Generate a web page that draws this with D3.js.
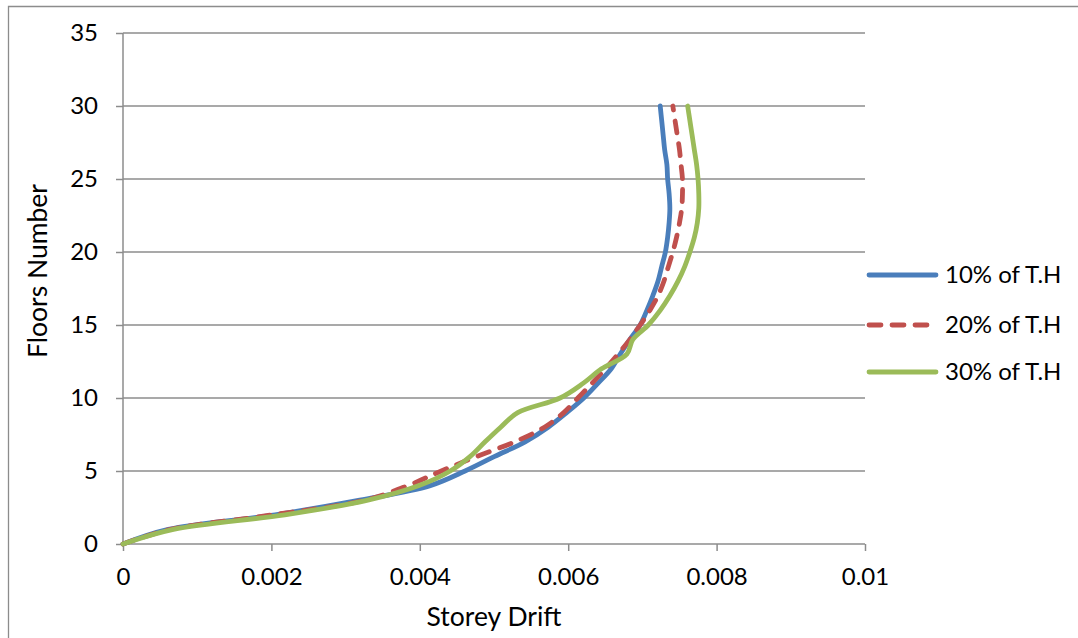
<!DOCTYPE html>
<html><head><meta charset="utf-8">
<script src="https://cdn.jsdelivr.net/npm/d3@7"></script>
<style>body{margin:0;background:#fff}svg{display:block}text{font-family:Lato,"Open Sans",sans-serif;fill:#000}</style>
</head><body><svg id="c" width="1078" height="638"></svg>
<script>
const floors = d3.range(0, 31);
const drift10 = [0,0.00061,0.00205,0.00319,0.00414,0.00461,0.00501,0.00542,0.00573,0.00598,0.00621,0.00640,0.00658,0.00670,0.00683,0.00697,0.00706,0.00714,0.00721,0.00726,0.00731,0.00734,0.00736,0.00737,0.00736,0.00734,0.00733,0.00730,0.00728,0.00726,0.00724];
const drift20 = [0,0.00064,0.00202,0.00326,0.00384,0.00429,0.00477,0.00528,0.00568,0.00594,0.00613,0.00632,0.00650,0.00667,0.00683,0.00697,0.00710,0.00721,0.00729,0.00735,0.00741,0.00746,0.00750,0.00753,0.00754,0.00754,0.00752,0.00750,0.00747,0.00744,0.00741];
const drift30 = [0,0.00068,0.00218,0.00330,0.00399,0.00441,0.00468,0.00488,0.00509,0.00532,0.00589,0.00620,0.00645,0.00679,0.00687,0.00708,0.00724,0.00737,0.00748,0.00757,0.00764,0.00770,0.00774,0.00776,0.00776,0.00775,0.00773,0.00770,0.00767,0.00764,0.00761];
const seriesNames = ["10% of T.H","20% of T.H","30% of T.H"];
const seriesColors = ["#4a7ebb","#c0504d","#9bbb59"];
const xTicks = [0,0.002,0.004,0.006,0.008,0.01];
const xTickLabels = ["0","0.002","0.004","0.006","0.008","0.01"];
const yTicks = [0,5,10,15,20,25,30,35];

const svg = d3.select("#c");
const L=123,R=865,T=33,B=544;
const x = d3.scaleLinear().domain([0,0.01]).range([L,R]);
const y = d3.scaleLinear().domain([0,35]).range([B,T]);
const FS = 24, TFS = 26.5;

// outer border
svg.append("path").attr("d","M8.5,700 L8.5,6.5 L1100,6.5").attr("fill","none").attr("stroke","#8c8c8c").attr("stroke-width",1.3);

// gridlines
svg.append("g").selectAll("line").data(yTicks.filter(d=>d>0)).join("line")
  .attr("x1",L).attr("x2",R).attr("y1",d=>y(d)).attr("y2",d=>y(d))
  .attr("stroke","#8c8c8c").attr("stroke-width",1.5);

// y axis
const ya = svg.append("g").attr("transform",`translate(${L},0)`)
  .call(d3.axisLeft(y).tickValues(yTicks).tickSize(7).tickPadding(18).tickFormat(d3.format("d")));
ya.select(".domain").attr("stroke","#8c8c8c").attr("stroke-width",1.5).attr("d",`M0,${B}V${T}`);
ya.selectAll(".tick line").attr("stroke","#8c8c8c").attr("stroke-width",1.5);
ya.selectAll(".tick text").attr("font-size",FS).attr("font-family","Lato");

// x axis
const xa = svg.append("g").attr("transform",`translate(0,${B})`)
  .call(d3.axisBottom(x).tickValues(xTicks).tickSize(7).tickPadding(17).tickFormat((d,i)=>xTickLabels[i]));
xa.select(".domain").attr("stroke","#8c8c8c").attr("stroke-width",1.5).attr("d",`M${L},0H${R}`);
xa.selectAll(".tick line").attr("stroke","#8c8c8c").attr("stroke-width",1.5);
xa.selectAll(".tick text").attr("font-size",FS).attr("font-family","Lato");

// titles
svg.append("text").attr("x",494).attr("y",617).attr("dy","0.35em").attr("text-anchor","middle").attr("font-size",TFS).text("Storey Drift");
svg.append("text").attr("transform","translate(38,271) rotate(-90)").attr("dy","0.35em").attr("text-anchor","middle").attr("font-size",TFS).text("Floors  Number");

// lines
const series = [drift10, drift20, drift30];
const line = d3.line().x(d=>x(d[0])).y(d=>y(d[1])).curve(d3.curveCatmullRom.alpha(0.5));
[0,1,2].forEach(i=>{
  const p = svg.append("path").datum(series[i].map((v,k)=>[v,floors[k]]))
    .attr("d",line).attr("fill","none").attr("stroke",seriesColors[i])
    .attr("stroke-width",4.8).attr("stroke-linecap","round").attr("stroke-linejoin","round");
  if(i===1) p.attr("stroke-dasharray","12,11");
});

// legend
const legY = [275,325,372];
seriesNames.forEach((n,i)=>{
  const g = svg.append("g");
  const l = g.append("line").attr("x1",869).attr("x2",936).attr("y1",legY[i]).attr("y2",legY[i])
    .attr("stroke",seriesColors[i]).attr("stroke-width",4.8).attr("stroke-linecap","round");
  if(i===1) l.attr("stroke-dasharray","12,11");
  g.append("text").attr("x",945).attr("y",legY[i]).attr("dy","0.35em").attr("font-size",FS).text(n);
});
</script></body></html>
